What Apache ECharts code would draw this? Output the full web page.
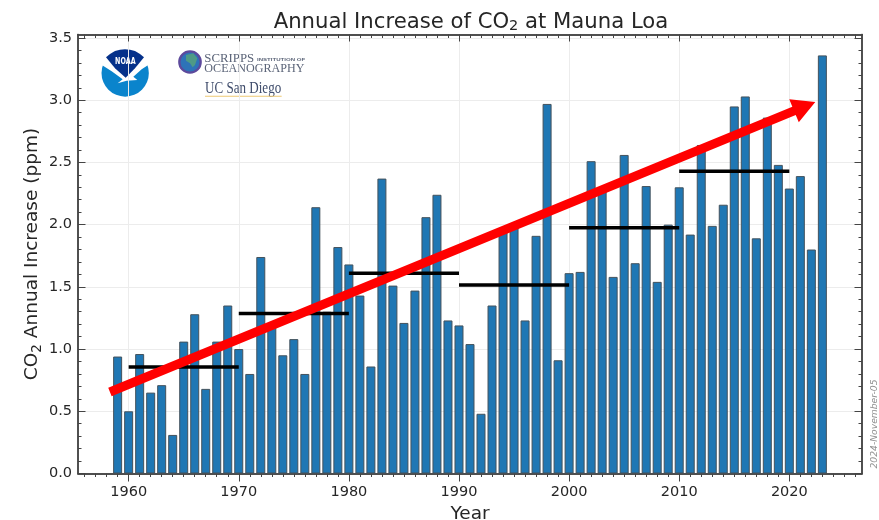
<!DOCTYPE html>
<html><head><meta charset="utf-8">
<style>html,body{margin:0;padding:0;background:#fff}#c{width:879px;height:520px}</style>
<script src="https://cdn.jsdelivr.net/npm/echarts@6/dist/echarts.min.js"></script>
</head><body><div id="c"></div>
<script>
const years = [1959,1960,1961,1962,1963,1964,1965,1966,1967,1968,1969,1970,1971,1972,1973,1974,1975,1976,1977,1978,1979,1980,1981,1982,1983,1984,1985,1986,1987,1988,1989,1990,1991,1992,1993,1994,1995,1996,1997,1998,1999,2000,2001,2002,2003,2004,2005,2006,2007,2008,2009,2010,2011,2012,2013,2014,2015,2016,2017,2018,2019,2020,2021,2022,2023];
const increase = [0.94,0.5,0.96,0.65,0.71,0.31,1.06,1.28,0.68,1.06,1.35,1.00,0.80,1.74,1.19,0.95,1.08,0.80,2.14,1.30,1.82,1.68,1.43,0.86,2.37,1.51,1.21,1.47,2.06,2.24,1.23,1.19,1.04,0.48,1.35,1.96,1.98,1.23,1.91,2.97,0.91,1.61,1.62,2.51,2.28,1.58,2.56,1.69,2.31,1.54,2.00,2.30,1.92,2.64,1.99,2.16,2.95,3.03,1.89,2.86,2.48,2.29,2.39,1.80,3.36];
const decadeStart = [1960,1970,1980,1990,2000,2010];
const decadeEnd = [1970,1980,1990,2000,2010,2020];
const decadeMean = [0.855,1.285,1.61,1.515,1.975,2.43];
const trendFrom = [1958.3,0.655];
const trendTo = [2022.36,2.985];
const xMajor = [1960,1970,1980,1990,2000,2010,2020];
const xMinor = [1956,1957,1958,1959,1961,1962,1963,1964,1965,1966,1967,1968,1969,1971,1972,1973,1974,1975,1976,1977,1978,1979,1981,1982,1983,1984,1985,1986,1987,1988,1989,1991,1992,1993,1994,1995,1996,1997,1998,1999,2001,2002,2003,2004,2005,2006,2007,2008,2009,2011,2012,2013,2014,2015,2016,2017,2018,2019,2021,2022,2023,2024,2025,2026];
const yMajor = [0,0.5,1,1.5,2,2.5,3,3.5];
const yMinor = [0.1,0.2,0.3,0.4,0.6,0.7,0.8,0.9,1.1,1.2,1.3,1.4,1.6,1.7,1.8,1.9,2.1,2.2,2.3,2.4,2.6,2.7,2.8,2.9,3.1,3.2,3.3,3.4];
const X0 = 1955.4, X1 = 2026.6, Y0 = 0, Y1 = 3.528;
const FONT = '"DejaVu Sans"', INK = '#262626', FRAME = '#444';

function xAx(pos, vals, len, extra) {
  return Object.assign({type:'value',position:pos,min:X0,max:X1,scale:false,
    axisLine:{show:true,onZero:false,lineStyle:{color:FRAME,width:1.5}},
    axisTick:{show:true,inside:pos==='top',length:len,customValues:vals,lineStyle:{color:FRAME,width:1}},
    axisLabel:{show:false},splitLine:{show:false},minorTick:{show:false}},extra||{});
}
function yAx(pos, vals, len, extra) {
  return Object.assign({type:'value',position:pos,min:Y0,max:Y1,
    axisLine:{show:true,onZero:false,lineStyle:{color:FRAME,width:1.5}},
    axisTick:{show:true,inside:true,length:len,customValues:vals,lineStyle:{color:FRAME,width:1}},
    axisLabel:{show:false},splitLine:{show:false},minorTick:{show:false}},extra||{});
}
const sub = {fontSize:13.5,padding:[9,0,0,0],verticalAlign:'bottom',fontFamily:FONT,color:INK};

const decadeLine = [];
decadeStart.forEach((s,i)=>{decadeLine.push([s,decadeMean[i]],[decadeEnd[i],decadeMean[i]],[null,null]);});

const chart = echarts.init(document.getElementById('c'),null,{renderer:'canvas'});
chart.setOption({
  animation:false,backgroundColor:'#fff',
  title:{text:'Annual Increase of CO{s|2} at Mauna Loa',left:466,top:5,textAlign:'center',
    textStyle:{fontFamily:FONT,fontSize:21.2,fontWeight:'normal',color:INK,rich:{s:Object.assign({},sub,{fontSize:14.5})}}},
  grid:{left:78,right:17,top:34.5,bottom:46.5,containLabel:false,outerBoundsMode:'none'},
  xAxis:[
    xAx('bottom',xMajor,8,{name:'Year',nameLocation:'middle',nameGap:31,nameMoveOverlap:false,
      nameTextStyle:{fontFamily:FONT,fontSize:18.5,color:INK},
      axisLabel:{show:true,customValues:xMajor,margin:11,fontFamily:FONT,fontSize:14.5,color:INK,formatter:v=>String(v)},
      splitLine:{show:true,lineStyle:{color:'#ececec',width:1}}}),
    xAx('bottom',xMinor,3.5),
    xAx('top',xMajor,7),
    xAx('top',xMinor,3.5)
  ],
  yAxis:[
    yAx('left',yMajor,7.5,{name:'CO{s|2} Annual Increase (ppm)',nameLocation:'middle',nameGap:34,nameRotate:90,nameMoveOverlap:false,
      nameTextStyle:{fontFamily:FONT,fontSize:18.5,color:INK,rich:{s:sub}},
      axisLabel:{show:true,customValues:yMajor,margin:6,fontFamily:FONT,fontSize:14.5,color:INK,formatter:v=>v.toFixed(1)},
      splitLine:{show:true,lineStyle:{color:'#ececec',width:1}}}),
    yAx('left',yMinor,3.5),
    yAx('right',yMajor,7.5),
    yAx('right',yMinor,3.5)
  ],
  series:[
    {type:'bar',name:'Annual increase',barWidth:9,data:years.map((y,i)=>[y,increase[i]]),z:2,
      itemStyle:{color:'#1f77b4',borderColor:'#44525c',borderWidth:1}},
    {type:'line',name:'Decadal mean',data:decadeLine,connectNulls:false,showSymbol:false,symbol:'none',z:3,
      lineStyle:{color:'#000',width:3.5,cap:'butt'}},
    {type:'custom',name:'Trend',data:[[trendFrom[0],trendFrom[1],trendTo[0],trendTo[1]]],z:4,clip:false,
      encode:{x:[0,2],y:[1,3]},
      renderItem:(p,api)=>{
        const a=api.coord([api.value(0),api.value(1)]),b=api.coord([api.value(2),api.value(3)]);
        const dx=b[0]-a[0],dy=b[1]-a[1],L=Math.hypot(dx,dy),ux=dx/L,uy=dy/L,nx=-uy,ny=ux;
        const w=4.5,hw=12.5,hl=23,t=[b[0]-ux*hl,b[1]-uy*hl];
        const pts=[[a[0]+nx*w,a[1]+ny*w],[t[0]+nx*w,t[1]+ny*w],[t[0]+nx*hw,t[1]+ny*hw],b,[t[0]-nx*hw,t[1]-ny*hw],[t[0]-nx*w,t[1]-ny*w],[a[0]-nx*w,a[1]-ny*w]];
        return {type:'polygon',shape:{points:pts},style:{fill:'#ff0000'}};
      }}
  ],
  graphic:[
    {type:'text',x:875,y:424,rotation:Math.PI/2,originX:0,originY:0,z:10,
      style:{text:'2024-November-05',fill:'#909090',font:'italic 9.2px "DejaVu Sans"',align:'center',verticalAlign:'middle'}},
    {type:'group',x:80,y:30,scaleX:1/3,scaleY:1/3,z:10,children:[
      {type:'circle',shape:{cx:135.5,cy:129,r:71},style:{fill:'#0a84cc'}},
      {type:'polygon',shape:{points:[[55,40],[215,40],[215,98],[185,118],[160,140],[172,150],[140,152],[113,160],[128,148],[95,124],[55,98]]},style:{fill:'#fff'}},
      {type:'polygon',shape:{points:[[78,82],[90,72],[105,63],[120,59],[135,58],[150,59],[165,63],[180,72],[192,82],[165,115],[137,143],[105,115]]},style:{fill:'#05318a'}},
      {type:'text',x:136,y:97,scaleX:0.8,style:{text:'NOAA',fill:'#fff',font:'bold 24px "DejaVu Sans"',align:'center',verticalAlign:'middle'}},
      {type:'circle',shape:{cx:330,cy:96,r:32},style:{fill:'#2e73b8',stroke:'#5d4a9c',lineWidth:7}},
      {type:'polygon',shape:{points:[[318,75],[340,70],[352,85],[345,105],[338,112],[330,100],[318,92]]},style:{fill:'#4f9a86'}},
      {type:'text',x:373,y:84,scaleX:0.96,style:{text:'SCRIPPS',fill:'#5b6478',font:'40px "Liberation Serif"',verticalAlign:'middle'}},
      {type:'text',x:531,y:88,scaleX:1.4,style:{text:'INSTITUTION OF',fill:'#5b6478',font:'bold 13px "Liberation Sans"',verticalAlign:'middle'}},
      {type:'text',x:373,y:116,scaleX:0.955,style:{text:'OCEANOGRAPHY',fill:'#5b6478',font:'38px "Liberation Serif"',verticalAlign:'middle'}},
      {type:'text',x:375,y:177,scaleX:0.8,style:{text:'UC San Diego',fill:'#3f4c6b',font:'49px "Liberation Serif"',verticalAlign:'middle'}},
      {type:'rect',shape:{x:375,y:197,width:230,height:3},style:{fill:'#edc873'}}
    ]}
  ]
});
</script></body></html>
